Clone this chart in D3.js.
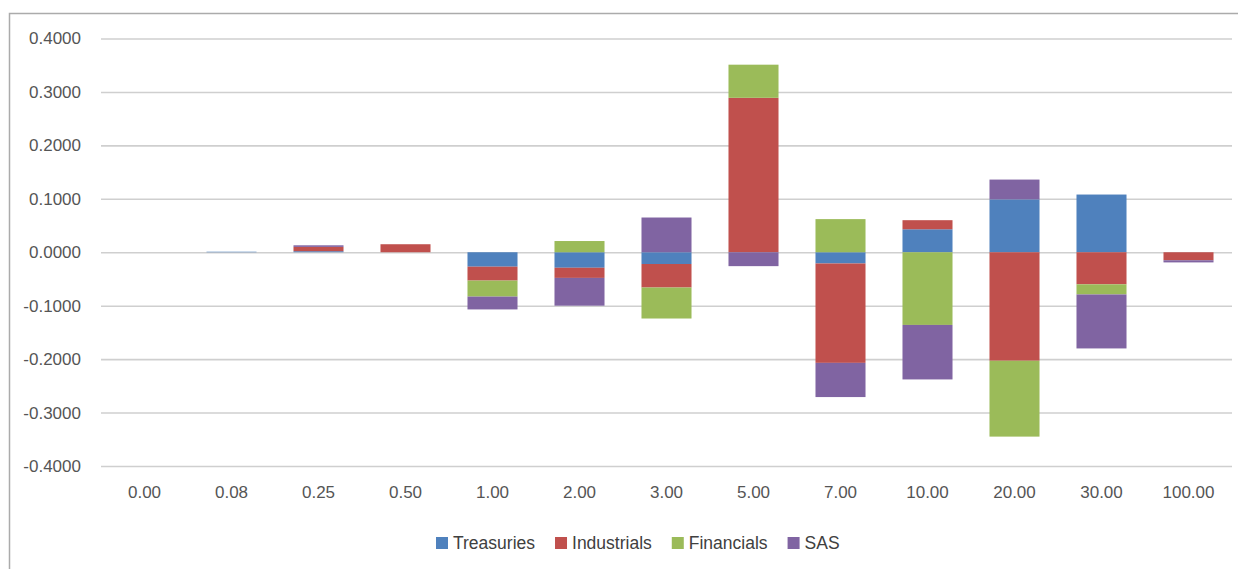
<!DOCTYPE html>
<html>
<head>
<meta charset="utf-8">
<script src="https://cdn.jsdelivr.net/npm/d3@7"></script>
<style>
  html, body { margin: 0; padding: 0; background: #fff; }
  svg { display: block; font-family: "Liberation Sans", Arial, sans-serif; }
</style>
</head>
<body>
<svg id="chart" width="1238" height="569"></svg>
<script>
// Maturity buckets on the x axis
const categories = ["0.00", "0.08", "0.25", "0.50", "1.00", "2.00", "3.00", "5.00", "7.00", "10.00", "20.00", "30.00", "100.00"];

// Contribution of each sector per maturity bucket
const treasuries  = [0, 0.001, 0.002, 0, -0.027, -0.029, -0.022, 0, -0.021, 0.043, 0.099, 0.108, 0];
const industrials = [0, 0, 0.008, 0.015, -0.026, -0.019, -0.044, 0.289, -0.186, 0.017, -0.203, -0.060, -0.015];
const financials  = [0, 0, 0, 0, -0.030, 0.021, -0.058, 0.062, 0.062, -0.136, -0.142, -0.019, 0];
const sas         = [0, 0, 0.003, 0, -0.024, -0.052, 0.065, -0.026, -0.064, -0.102, 0.037, -0.101, -0.004];

const seriesNames = ["Treasuries", "Industrials", "Financials", "SAS"];
const seriesColors = ["#4F81BD", "#C0504D", "#9BBB59", "#8064A2"];
const yTicks = [-0.4, -0.3, -0.2, -0.1, 0, 0.1, 0.2, 0.3, 0.4];

const rows = categories.map((c, i) => ({
  cat: c,
  Treasuries: treasuries[i],
  Industrials: industrials[i],
  Financials: financials[i],
  SAS: sas[i]
}));

const svg = d3.select("#chart");

// Chart frame
svg.append("rect")
  .attr("x", 9.5).attr("y", 13.5)
  .attr("width", 1300).attr("height", 700)
  .attr("fill", "#fff")
  .attr("stroke", "#ababab")
  .attr("stroke-width", 1.5);

const x = d3.scaleBand()
  .domain(categories)
  .range([101, 1232])
  .paddingInner(0.425)
  .paddingOuter(0.2125);

const y = d3.scaleLinear()
  .domain([-0.4, 0.4])
  .range([466, 38.5]);

// Four decimals, plain hyphen for negatives
const fmt = v => (v < 0 ? "-" : "") + Math.abs(v).toFixed(4);

// Horizontal gridlines with value labels
const yAxis = d3.axisLeft(y)
  .tickValues(yTicks)
  .tickFormat(fmt)
  .tickSize(-(1232 - 101))
  .tickPadding(20);

const gy = svg.append("g")
  .attr("transform", "translate(101,0)")
  .call(yAxis);
gy.select(".domain").remove();
gy.selectAll(".tick line")
  .attr("stroke", "#cfcfcf")
  .attr("stroke-width", 1.6);
gy.selectAll(".tick text")
  .attr("fill", "#555")
  .attr("font-size", 17);

// Stacked bars, positive and negative parts diverging from zero
const stacked = d3.stack()
  .keys(seriesNames)
  .offset(d3.stackOffsetDiverging)(rows);

svg.append("g")
  .selectAll("g")
  .data(stacked)
  .join("g")
  .attr("fill", (d, i) => seriesColors[i])
  .selectAll("rect")
  .data(d => d)
  .join("rect")
  .attr("x", d => x(d.data.cat))
  .attr("width", x.bandwidth())
  .attr("y", d => y(Math.max(d[0], d[1])))
  .attr("height", d => Math.abs(y(d[0]) - y(d[1])));

// Category labels under the plot
const xAxis = d3.axisBottom(x).tickSize(0).tickPadding(0);
const gx = svg.append("g")
  .attr("transform", "translate(0,486)")
  .call(xAxis);
gx.select(".domain").remove();
gx.selectAll(".tick text")
  .attr("fill", "#555")
  .attr("font-size", 17);

// Legend
const legend = svg.append("g").attr("transform", "translate(436,0)");
let lx = 0;
seriesNames.forEach((name, i) => {
  const item = legend.append("g").attr("transform", `translate(${lx},0)`);
  item.append("rect")
    .attr("x", 0).attr("y", 537)
    .attr("width", 12).attr("height", 12)
    .attr("fill", seriesColors[i]);
  const t = item.append("text")
    .attr("x", 17).attr("y", 549)
    .attr("fill", "#404040")
    .attr("font-size", 17.5)
    .text(name);
  lx += 17 + t.node().getComputedTextLength() + 20;
});
</script>
</body>
</html>
